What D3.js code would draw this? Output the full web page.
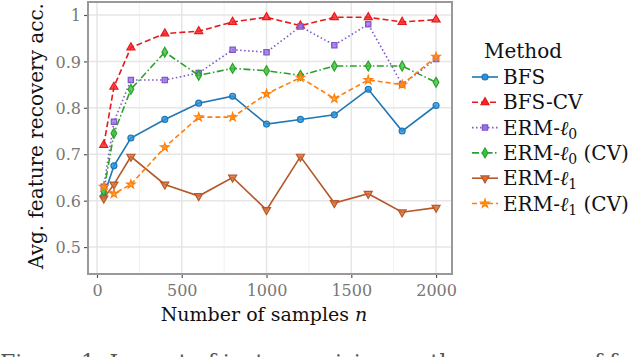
<!DOCTYPE html>
<html><head><meta charset="utf-8">
<script src="https://cdn.jsdelivr.net/npm/d3@7"></script>
<style>html,body{margin:0;padding:0;background:#fff;}svg{display:block;}</style>
</head><body>
<svg id="c" width="640" height="357"></svg>
<script>
const nValues = [40, 100, 200, 400, 600, 800, 1000, 1200, 1400, 1600, 1800, 2000];
const methods = ["BFS", "BFS-CV", "ERM-ℓ0", "ERM-ℓ0 (CV)", "ERM-ℓ1", "ERM-ℓ1 (CV)"];
const bfs      = [0.61, 0.675, 0.735, 0.775, 0.81, 0.825, 0.765, 0.775, 0.785, 0.84, 0.75, 0.805];
const bfsCV    = [0.72, 0.845, 0.93, 0.96, 0.965, 0.985, 0.995, 0.977, 0.995, 0.995, 0.985, 0.99];
const erm0     = [0.63, 0.77, 0.86, 0.86, 0.875, 0.925, 0.92, 0.975, 0.935, 0.98, 0.85, 0.905];
const erm0CV   = [0.62, 0.745, 0.84, 0.92, 0.87, 0.885, 0.88, 0.87, 0.89, 0.89, 0.89, 0.855];
const erm1     = [0.605, 0.635, 0.695, 0.635, 0.61, 0.65, 0.58, 0.695, 0.595, 0.615, 0.575, 0.585];
const erm1CV   = [0.63, 0.615, 0.635, 0.715, 0.78, 0.78, 0.83, 0.865, 0.82, 0.86, 0.85, 0.91];
const xTicks = [0, 500, 1000, 1500, 2000];
const yTicks = [0.5, 0.6, 0.7, 0.8, 0.9, 1.0];
const yTickLabels = ["0.5", "0.6", "0.7", "0.8", "0.9", "1"];

const seriesValues = [bfs, bfsCV, erm0, erm0CV, erm1, erm1CV];
const colors = ["#1f77b4", "#e41a1c", "#7e57c2", "#2ca02c", "#b5582a", "#ff7f0e"];
const dashes = [null, "6,3", "1.5,2.5", "7,2.5,1.5,2.5", null, "5,3"];
const symbols = [d3.symbolCircle, d3.symbolTriangle, d3.symbolSquare, d3.symbolDiamond, d3.symbolTriangle, d3.symbolStar];
const rotations = [0, 0, 0, 0, 180, 0];
const symSizes = [28, 28, 28, 28, 28, 22];

const svg = d3.select("#c");
const FONT = "DejaVu Serif";
const x = d3.scaleLinear().domain([-53, 2094]).range([88, 452]);
const y = d3.scaleLinear().domain([0.442, 1.028]).range([274, 2]);

// grid
const g = svg.append("g");
const minorX = [250, 750, 1250, 1750];
g.selectAll("line.mx").data(minorX).enter().append("line")
  .attr("x1", d => x(d)).attr("x2", d => x(d)).attr("y1", y.range()[1]).attr("y2", y.range()[0])
  .attr("stroke", "#f1f1f1").attr("stroke-width", 1);
g.selectAll("line.gx").data(xTicks).enter().append("line")
  .attr("x1", d => x(d)).attr("x2", d => x(d)).attr("y1", y.range()[1]).attr("y2", y.range()[0])
  .attr("stroke", "#e6e6e6").attr("stroke-width", 1.5);
g.selectAll("line.gy").data(yTicks).enter().append("line")
  .attr("y1", d => y(d)).attr("y2", d => y(d)).attr("x1", x.range()[0]).attr("x2", x.range()[1])
  .attr("stroke", "#e6e6e6").attr("stroke-width", 1.5);

// axes
const xAxis = d3.axisBottom(x).tickValues(xTicks).tickSize(4).tickPadding(4).tickFormat(d3.format("d"));
const yAxis = d3.axisLeft(y).tickValues(yTicks).tickSize(4).tickPadding(3).tickFormat((d, i) => yTickLabels[i]);
const xa = svg.append("g").attr("transform", "translate(0,274)").call(xAxis);
const ya = svg.append("g").attr("transform", "translate(88,0)").call(yAxis);
[xa, ya].forEach(a => {
  a.attr("font-family", FONT).attr("font-size", 16);
  a.select(".domain").remove();
  a.selectAll(".tick line").attr("stroke", "#555").attr("stroke-width", 1.2);
  a.selectAll(".tick text").attr("fill", "#777");
});
xa.selectAll(".tick text").attr("dy", "0.85em");
ya.selectAll(".tick text").attr("dy", "0.35em");

// series
const line = d3.line().x((d, i) => x(nValues[i])).y(d => y(d));
seriesValues.forEach((vals, k) => {
  const p = svg.append("path").datum(vals).attr("d", line)
    .attr("fill", "none").attr("stroke", colors[k]).attr("stroke-width", 1.6);
  if (dashes[k]) p.attr("stroke-dasharray", dashes[k]);
  const sym = d3.symbol().type(symbols[k]).size(symSizes[k]);
  svg.append("g").selectAll("path").data(vals).enter().append("path")
    .attr("d", sym)
    .attr("transform", (d, i) => `translate(${x(nValues[i])},${y(d)}) rotate(${rotations[k]})`)
    .attr("fill", d3.color(colors[k]).brighter(0.6)).attr("fill-opacity", 0.8)
    .attr("stroke", colors[k]).attr("stroke-width", 1.2);
});

// frame
svg.append("rect").attr("x", 88).attr("y", 2).attr("width", 364).attr("height", 272)
  .attr("fill", "none").attr("stroke", "#999").attr("stroke-width", 2);

// axis labels
svg.append("text").attr("x", 264).attr("y", 321).attr("text-anchor", "middle")
  .attr("font-family", FONT).attr("font-size", 19).attr("fill", "#111")
  .html('Number of samples <tspan font-style="italic">n</tspan>');
svg.append("text").attr("transform", "translate(43,136) rotate(-90)").attr("text-anchor", "middle")
  .attr("font-family", FONT).attr("font-size", 20).attr("fill", "#111")
  .text("Avg. feature recovery acc.");

// legend
const lg = svg.append("g");
lg.append("text").attr("x", 484).attr("y", 58).attr("font-family", FONT).attr("font-size", 20)
  .attr("fill", "#111").text("Method");
methods.forEach((m, k) => {
  const cy = 77 + k * 25.3;
  const l = lg.append("line").attr("x1", 472).attr("x2", 498).attr("y1", cy).attr("y2", cy)
    .attr("stroke", colors[k]).attr("stroke-width", 1.6);
  if (dashes[k]) l.attr("stroke-dasharray", dashes[k]);
  lg.append("path").attr("d", d3.symbol().type(symbols[k]).size(symSizes[k])())
    .attr("transform", `translate(485,${cy}) rotate(${rotations[k]})`)
    .attr("fill", d3.color(colors[k]).brighter(0.6)).attr("stroke", colors[k]).attr("stroke-width", 1.2);
  const t = lg.append("text").attr("x", 503).attr("y", cy + 7).attr("font-family", FONT)
    .attr("font-size", 20).attr("fill", "#111");
  const base = m.replace(/ℓ[01].*/, "");
  const mt = m.match(/ℓ([01])(.*)/);
  if (mt) {
    t.append("tspan").text(base);
    t.append("tspan").attr("font-style", "italic").text("ℓ");
    t.append("tspan").attr("dy", 4).attr("font-size", 14).text(mt[1]);
    t.append("tspan").attr("dy", -4).text(mt[2]);
  } else {
    t.text(m);
  }
});

// caption fragment (cut off at the bottom, as in the reference)
svg.append("text").attr("x", 0).attr("y", 370).attr("font-family", FONT).attr("font-size", 22)
  .attr("fill", "#555").text("Figure 1: Impact of instance sizing on the accuracy of feature recovery");
</script>
</body></html>
